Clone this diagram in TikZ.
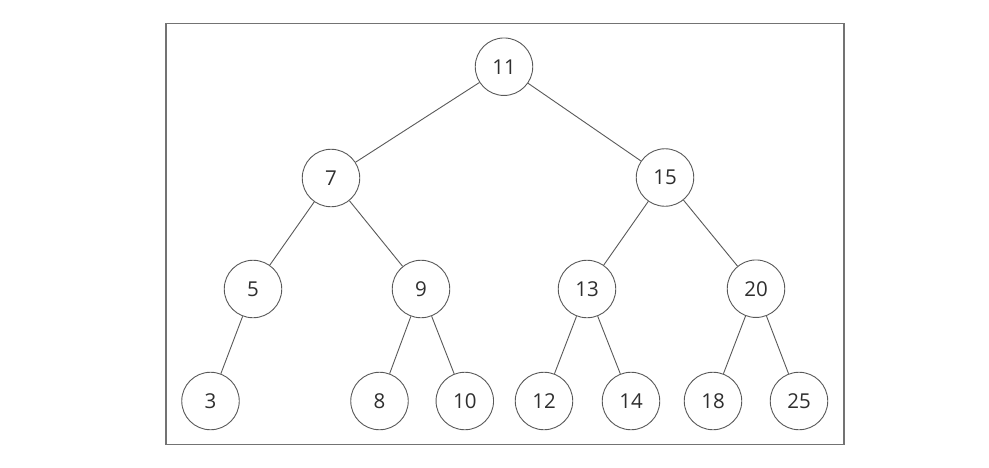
\documentclass[tikz,border=0pt]{standalone}
\usepackage{fontspec}
\setmainfont{Open Sans}
\begin{document}
\begin{tikzpicture}[x=1pt,y=-1pt,
  tnode/.style={circle,draw=black!65,line width=0.9pt,minimum size=57.5pt,inner sep=0pt,
    font=\fontsize{20.5}{22}\selectfont,text=black!82},
  edge/.style={draw=black!65,line width=0.9pt}]
\useasboundingbox (0,0) rectangle (989,467);
\draw[black!55,line width=1.3pt] (166,23.5) rectangle (844,444.5);
\node[tnode] (n11) at (504,66.7) {11};
\node[tnode] (n7) at (331,178) {7};
\node[tnode] (n15) at (665,177.5) {15};
\node[tnode] (n5) at (253,289) {5};
\node[tnode] (n9) at (421,289) {9};
\node[tnode] (n13) at (587,289) {13};
\node[tnode] (n20) at (756,288.7) {20};
\node[tnode] (n3) at (210.5,401) {3};
\node[tnode] (n8) at (379.5,401) {8};
\node[tnode] (n10) at (464.8,401) {10};
\node[tnode] (n12) at (544,401) {12};
\node[tnode] (n14) at (631,401) {14};
\node[tnode] (n18) at (713,401) {18};
\node[tnode] (n25) at (799,401) {25};
\foreach \a/\b in {n11/n7,n11/n15,n7/n5,n7/n9,n15/n13,n15/n20,n5/n3,n9/n8,n9/n10,n13/n12,n13/n14,n20/n18,n20/n25}
  \path[edge] (\a) -- (\b);
\end{tikzpicture}
\end{document}
